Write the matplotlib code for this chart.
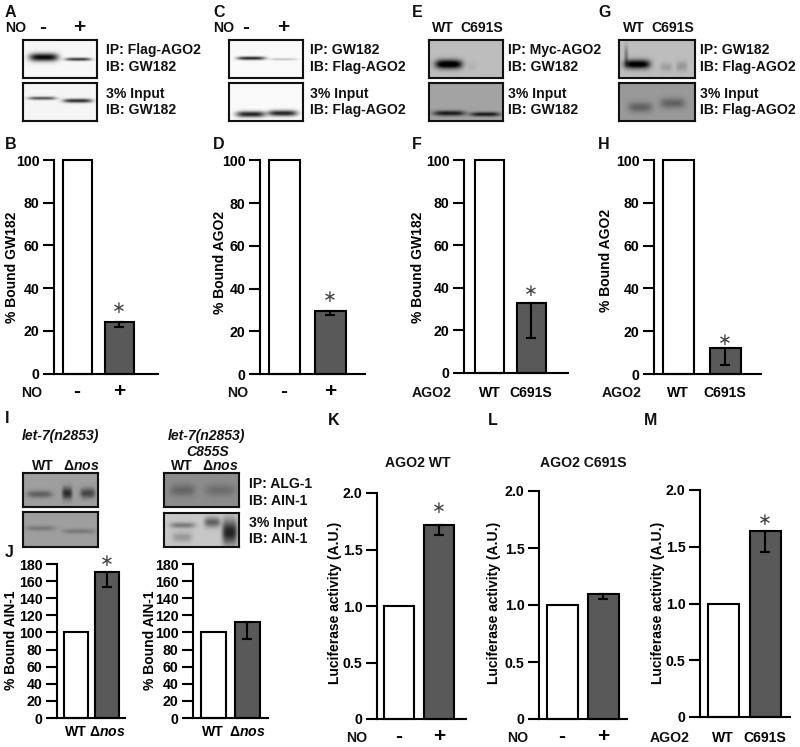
import numpy as np
import matplotlib
matplotlib.use("Agg")
import matplotlib.pyplot as plt

plt.rcParams['font.family'] = ['Liberation Sans', 'DejaVu Sans']
plt.rcParams['font.weight'] = 'bold'
plt.rcParams['mathtext.fontset'] = 'custom'
plt.rcParams['mathtext.rm'] = 'Liberation Sans:bold'
plt.rcParams['mathtext.bf'] = 'Liberation Sans:bold'
plt.rcParams['mathtext.it'] = 'Liberation Sans:italic:bold'
plt.rcParams['mathtext.bfit'] = 'Liberation Sans:italic:bold'

W, H = 800, 747
DPI = 100
PT = 72 / DPI  # one pixel in points
DARK = '#595959'

# ---- data ----
no_labels = ['-', '+']
ago_labels = ['WT', 'C691S']
nos_labels = ['WT', r'$\mathrm{\Delta}\mathit{nos}$']

pct_ticks = [0, 20, 40, 60, 80, 100]
ain_ticks = [0, 20, 40, 60, 80, 100, 120, 140, 160, 180]
luc_ticks = [0, 0.5, 1.0, 1.5, 2.0]
luc_ticklabels = ['0', '0.5', '1.0', '1.5', '2.0']

b_values, b_err, b_star = [100, 24], 2, 30.5
d_values, d_err, d_star = [100, 29.5], 2, 36
f_values, f_err, f_star = [100, 33], 16.5, 38.5
h_values, h_err, h_star = [100, 12], 8, 16
j1_values, j1_err, j1_star = [100, 171], 18, 184
j2_values, j2_err, j2_star = [100, 112], 20, None
k_values, k_err, k_star = [1.0, 1.72], 0.09, 1.87
l_values, l_err, l_star = [1.0, 1.10], 0.05, None
m_values, m_err, m_star = [1.0, 1.64], 0.19, 1.74

fig = plt.figure(figsize=(W / DPI, H / DPI), dpi=DPI, facecolor='white')


def text(x, y, s, size=10.1, ha='left', **kw):
    fig.text(x / W, 1 - y / H, s, fontsize=size, ha=ha, va='baseline', color='#111111', **kw)


def panel(box, centers, bw, values, err, star, ticks, ticklabels, xlabels, ylabel, ylabel_xy,
          label_base):
    """box = (spine x, right x, zero y, top y) in pixels"""
    x0, x1, y0, yt = box
    ax = fig.add_axes([x0 / W, 1 - y0 / H, (x1 - x0) / W, (y0 - yt) / H])
    ax.patch.set_alpha(0)
    c0, c1 = centers
    step = c1 - c0
    ax.set_xlim((x0 - c0) / step, (x1 - c0) / step)
    ax.set_ylim(0, ticks[-1])
    for s in ('top', 'right'):
        ax.spines[s].set_visible(False)
    for s in ('left', 'bottom'):
        ax.spines[s].set_linewidth(2.1 * PT)
    ax.bar([0, 1], values, width=bw / step, color=['white', DARK], edgecolor='black',
           linewidth=2.1 * PT, clip_on=False, zorder=2)
    ax.errorbar([1], [values[1]], yerr=[[err], [0]], color='black', elinewidth=2.1 * PT,
                capsize=5 * PT, capthick=2.1 * PT, zorder=3, clip_on=False, fmt='none')
    ax.set_yticks(ticks)
    ax.set_yticklabels(ticklabels, fontsize=10.2, fontweight='bold')
    ax.tick_params(axis='y', length=11 * PT, width=2.1 * PT, pad=2.5, color='black')
    ax.set_xticks([0, 1])
    xsize = 15 if xlabels is no_labels else 10.1
    ax.set_xticklabels(xlabels, fontsize=xsize, va='baseline', fontweight='bold')
    ax.tick_params(axis='x', length=0, pad=(label_base - y0) * PT)
    ax.set_ylabel(ylabel, fontsize=10, fontweight='bold', va='center')
    ax.yaxis.set_label_coords(ylabel_xy[0] / W, 1 - ylabel_xy[1] / H, transform=fig.transFigure)
    if star is not None:
        ax.text(1, star, '\u2217', family='DejaVu Sans', fontweight='normal', fontsize=12,
                ha='center', va='center', color='#444444', clip_on=False)
    return ax


panel((54, 158, 373.5, 160), (77, 119), 29, b_values, b_err, b_star, pct_ticks, pct_ticks,
      no_labels, '% Bound GW182', (12, 267), 397)
panel((260, 365, 374, 160.5), (284, 330), 31, d_values, d_err, d_star, pct_ticks, pct_ticks,
      no_labels, '% Bound AGO2', (220, 263), 397)
panel((464, 568, 373, 160), (490, 531), 29, f_values, f_err, f_star, pct_ticks, pct_ticks,
      ago_labels, '% Bound GW182', (418, 267), 397)
panel((654, 761, 374, 160), (678, 725), 31, h_values, h_err, h_star, pct_ticks, pct_ticks,
      ago_labels, '% Bound AGO2', (606, 260), 397)
panel((57, 125, 718, 564), (76, 107), 24, j1_values, j1_err, j1_star, ain_ticks, ain_ticks,
      nos_labels, '% Bound AIN-1', (11, 640), 736)
panel((193, 268, 718, 564), (213, 247), 25, j2_values, j2_err, j2_star, ain_ticks, ain_ticks,
      nos_labels, '% Bound AIN-1', (150, 640), 736)
panel((377, 466, 719, 493), (399, 439), 30, k_values, k_err, k_star, luc_ticks, luc_ticklabels,
      no_labels, 'Luciferase activity (A.U.)', (335, 603), 742)
panel((539, 627, 719, 491), (562, 603), 31, l_values, l_err, l_star, luc_ticks, luc_ticklabels,
      no_labels, 'Luciferase activity (A.U.)', (494, 603), 742)
panel((700, 790, 717, 490), (723, 765), 31, m_values, m_err, m_star, luc_ticks, luc_ticklabels,
      ago_labels, 'Luciferase activity (A.U.)', (658, 603), 742)


def blot(box, bg, bands):
    """box = (x0, x1, y0, y1) px; band = (xa, xb, y, sy, amp)"""
    x0, x1, y0, y1 = box
    ax = fig.add_axes([x0 / W, 1 - y1 / H, (x1 - x0) / W, (y1 - y0) / H])
    xs, ys = np.meshgrid(np.arange(x0, x1, 0.5), np.arange(y0, y1, 0.5))
    img = np.full(xs.shape, float(bg))
    for xa, xb, yc, sy, amp in bands:
        cx, sx = (xa + xb) / 2, (xb - xa) / 2
        img -= amp * np.exp(-(np.abs(xs - cx) / sx) ** 4 - ((ys - yc) / sy) ** 2)
    ax.imshow(np.clip(img, 0, 1), cmap='gray', vmin=0, vmax=1, aspect='auto',
              extent=(x0, x1, y1, y0), interpolation='bilinear')
    ax.set_xticks([])
    ax.set_yticks([])
    for s in ax.spines.values():
        s.set_linewidth(2.1 * PT)
        s.set_color('#111111')


blot((23, 97, 40, 78), 0.97, [(29, 58, 57, 4, 0.95), (65, 91, 59, 1.6, 0.75)])
blot((23, 97, 83, 121), 0.96, [(28, 56, 98, 1.6, 0.65), (63, 92, 100.5, 2, 0.8)])
blot((229, 303, 40, 78), 0.98, [(237, 265, 58, 1.7, 0.85), (270, 297, 59, 1.2, 0.22)])
blot((229, 303, 83, 121), 0.98, [(236, 265, 114, 3, 0.85), (268, 297, 113, 3, 0.85)])
blot((429, 503, 40, 78), 0.74, [(435, 462, 64, 4.5, 0.85), (468, 476, 66, 4, 0.04)])
blot((429, 503, 83, 121), 0.64, [(433, 465, 113, 2.6, 0.55), (470, 500, 114, 2.2, 0.55)])
blot((619, 695, 40, 78), 0.74, [(624, 650, 64, 4.5, 0.8), (624, 628, 55, 9, 0.25),
                                (660, 672, 67, 4, 0.12), (676, 687, 66, 5, 0.15)])
blot((619, 695, 83, 121), 0.60, [(628, 652, 107, 5, 0.22), (660, 685, 103, 5, 0.22)])
blot((23, 98, 473, 507), 0.62, [(27, 52, 494, 3.5, 0.25), (62, 72, 493, 6, 0.45), (80, 95, 493, 5, 0.35)])
blot((23, 98, 512, 547), 0.62, [(26, 55, 528, 2.5, 0.15), (63, 95, 531, 2.5, 0.15)])
blot((164, 239, 473, 507), 0.55, [(170, 195, 490, 6, 0.15), (205, 235, 490, 6, 0.12)])
blot((164, 239, 513, 547), 0.78, [(170, 195, 525, 3, 0.3), (172, 192, 537, 5, 0.18), (204, 220, 522, 5, 0.4),
                                  (222, 237, 532, 12, 0.65)])

# panel letters
for s, x, y in [('A', 5, 17), ('C', 213, 17), ('E', 412, 17), ('G', 598, 17),
                ('B', 5, 149), ('D', 213, 149), ('F', 412, 149), ('H', 598, 149),
                ('I', 5, 423), ('J', 5, 557), ('K', 328, 425), ('L', 488, 425), ('M', 644, 425)]:
    text(x, y, s, size=11.5)

# blot annotations
for x, lines in [(106, ['IP: Flag-AGO2', 'IB: GW182', '3% Input', 'IB: GW182']),
                 (310, ['IP: GW182', 'IB: Flag-AGO2', '3% Input', 'IB: Flag-AGO2']),
                 (508, ['IP: Myc-AGO2', 'IB: GW182', '3% Input', 'IB: GW182']),
                 (700, ['IP: GW182', 'IB: Flag-AGO2', '3% Input', 'IB: Flag-AGO2'])]:
    for y, s in zip([54, 71, 98, 114], lines):
        text(x, y, s)
for y, s in zip([488, 505, 527, 543], ['IP: ALG-1', 'IB: AIN-1', '3% Input', 'IB: AIN-1']):
    text(249, y, s)

# lane headings
text(5, 32, 'NO')
text(213, 32, 'NO')
text(43, 33, '-', size=15, ha='center')
text(79, 33, '+', size=15, ha='center')
text(246, 33, '-', size=15, ha='center')
text(283, 33, '+', size=15, ha='center')
for xa, xb in [(443, 482), (634, 673)]:
    text(xa, 32, 'WT', ha='center')
    text(xb, 32, 'C691S', ha='center')
text(60, 440, 'let-7(n2853)', ha='center', style='italic')
text(206, 440, 'let-7(n2853)', ha='center', style='italic')
text(208, 456, 'C855S', ha='center', style='italic')
for xa, xb in [(43, 81), (182, 220)]:
    text(xa, 470, 'WT', ha='center')
    text(xb, 470, nos_labels[1], ha='center')

# row labels under the bar charts
for x, y, s in [(21, 397, 'NO'), (227, 397, 'NO'), (412, 397, 'AGO2'), (602, 397, 'AGO2'),
                (346, 742, 'NO'), (507, 742, 'NO'), (650, 742, 'AGO2')]:
    text(x, y, s)
text(418, 467, 'AGO2 WT', ha='center')
text(583, 467, 'AGO2 C691S', ha='center')

fig.savefig('out.png', dpi=DPI)
